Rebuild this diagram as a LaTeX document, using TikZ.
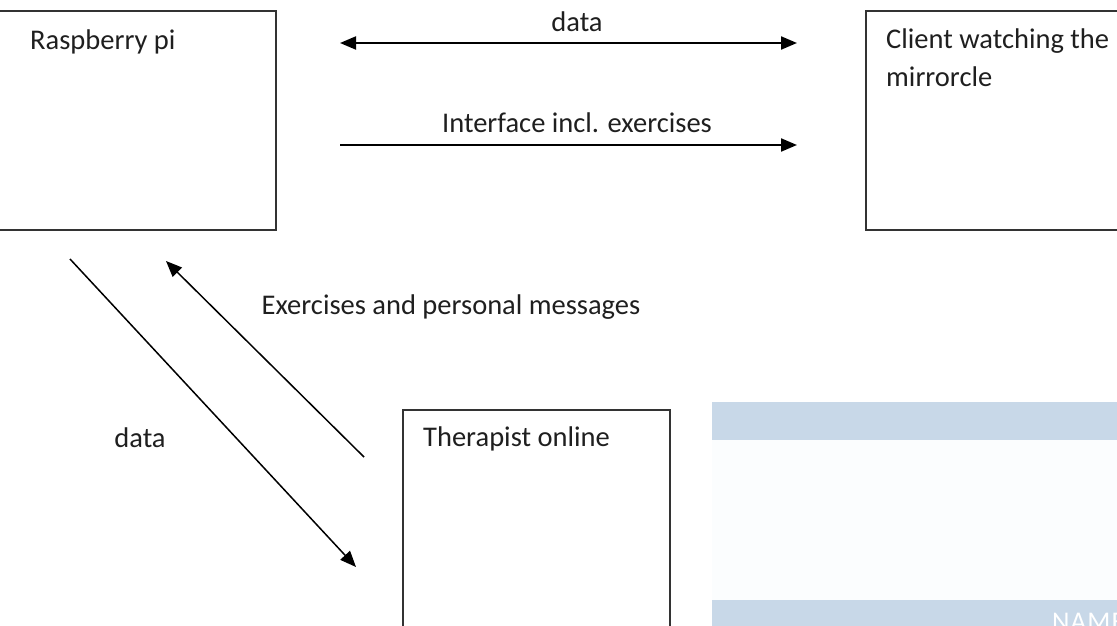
\documentclass[tikz,border=0pt]{standalone}
\usepackage{fontspec}
\setmainfont{Carlito}
\usetikzlibrary{arrows.meta}
\definecolor{bandblue}{HTML}{C8D8E8}
\definecolor{paleblue}{HTML}{FBFDFE}
\definecolor{boxgray}{HTML}{333333}
\tikzset{
  box/.style={draw=boxgray, line width=2pt, rectangle, inner sep=0pt, anchor=north west},
  lbl/.style={font=\fontsize{28.5}{38}\selectfont, inner sep=0pt, text=black!88},
  harrow/.style={line width=2pt, -{Triangle[length=16pt,width=13pt]}},
  darrow/.style={line width=1.5pt, -{Triangle[length=16pt,width=13pt]}},
}
\begin{document}
\begin{tikzpicture}[x=1pt,y=-1pt]
\useasboundingbox (0,0) rectangle (1117,626);
\begin{scope}
\clip (0,0) rectangle (1117,626);
% panel at lower right
\fill[bandblue] (712,402) rectangle (1130,440);
\fill[paleblue] (712,440) rectangle (1130,600);
\fill[bandblue] (712,600) rectangle (1130,640);
\node[lbl, anchor=base west, text=white, font=\fontsize{27}{30}\selectfont\addfontfeatures{LetterSpace=4}] (nam) at (1052,630) {NAME};
% boxes
\node[box, minimum width=285pt, minimum height=219pt] (rpi) at (-10,10) {};
\node[box, minimum width=285pt, minimum height=219pt] (client) at (865,10) {};
\node[box, minimum width=267pt, minimum height=240pt] (ther) at (402,409) {};
\end{scope}
% box texts
\node[lbl, anchor=base west] (rpitxt) at (30,50) {Raspberry pi};
\node[lbl, anchor=base west, align=left] (clienttxt) at (886,87) {Client watching the\\mirrorcle};
\node[lbl, anchor=base west] (thertxt) at (423,446) {Therapist online};
% connectors
\coordinate (d1a) at (340,43);
\coordinate (d1b) at (797,43);
\coordinate (i1a) at (340,145);
\coordinate (i1b) at (797,145);
\coordinate (d2a) at (70,259);
\coordinate (d2b) at (356,567);
\coordinate (e1a) at (364,457);
\coordinate (e1b) at (166,261);
\draw[harrow, {Triangle[length=16pt,width=13pt]}-{Triangle[length=16pt,width=13pt]}] (d1a) -- (d1b);
\draw[harrow] (i1a) -- (i1b);
\draw[darrow] (d2a) -- (d2b);
\draw[darrow] (e1a) -- (e1b);
% connector labels
\node[lbl] (l1) at (577,22) {data};
\node[lbl] (l2) at (577,123) {Interface incl. exercises};
\node[lbl] (l3) at (140,438) {data};
\node[lbl] (l4) at (451,307) {Exercises and personal messages};
\end{tikzpicture}
\end{document}
